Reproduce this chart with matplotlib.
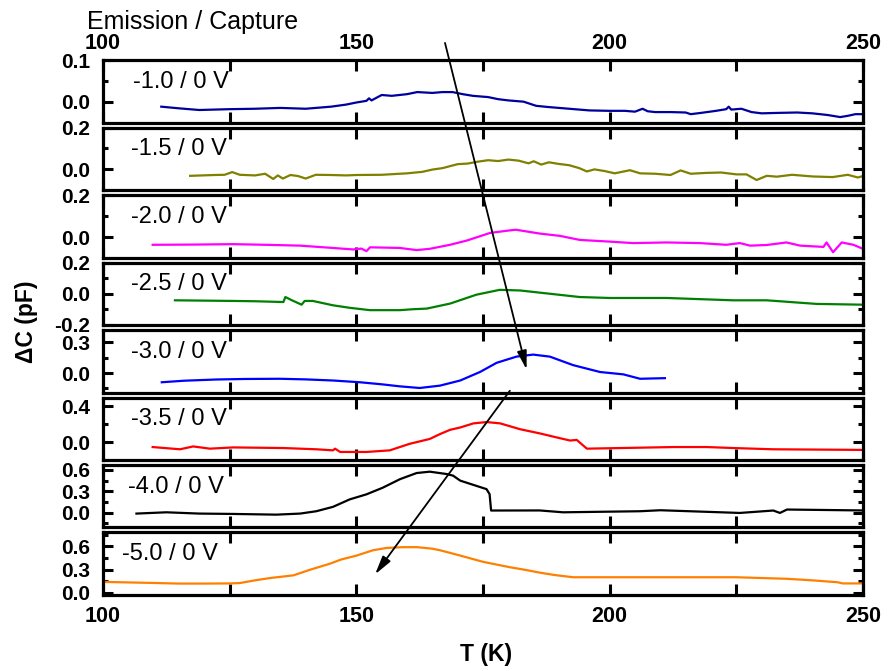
import matplotlib
matplotlib.use("Agg")
import matplotlib.pyplot as plt
from matplotlib.patches import ConnectionPatch

plt.rcParams['font.family'] = ['Liberation Sans', 'DejaVu Sans']

# bias labels and colours, top panel to bottom panel
labels = ['-1.0 / 0 V', '-1.5 / 0 V', '-2.0 / 0 V', '-2.5 / 0 V',
          '-3.0 / 0 V', '-3.5 / 0 V', '-4.0 / 0 V', '-5.0 / 0 V']
colors = ['#00009C', '#808000', '#FF00FF', '#008000',
          '#0000FF', '#FF0000', '#000000', '#FF8000']

# -1.0 / 0 V
T1 = [111.5, 115, 119, 125, 130, 135, 140, 145, 148, 150, 152, 152.5, 153, 155, 157, 160, 162, 165,
      167, 169, 171, 173, 176, 178, 180, 183, 185.5, 188, 190, 193, 196, 200, 203, 205, 206.5, 207.5,
      209, 212, 215, 216, 218, 221, 223, 223.5, 224, 226, 228, 230, 233, 237, 240, 243, 245.5, 247,
      248.5, 250]
C1 = [-0.012, -0.016, -0.02, -0.018, -0.017, -0.015, -0.017, -0.012, -0.007, -0.002, 0.002, 0.008,
      0.003, 0.016, 0.014, 0.018, 0.023, 0.021, 0.023, 0.023, 0.018, 0.014, 0.011, 0.006, 0.003, 0.0,
      -0.01, -0.013, -0.015, -0.018, -0.021, -0.022, -0.022, -0.024, -0.017, -0.023, -0.025, -0.025,
      -0.026, -0.03, -0.027, -0.022, -0.018, -0.012, -0.019, -0.017, -0.025, -0.028, -0.027, -0.026,
      -0.028, -0.032, -0.037, -0.034, -0.03, -0.03]

# -1.5 / 0 V
T2 = [117.2, 122, 124, 125.5, 127, 130, 132, 133.6, 134.5, 135.5, 137, 138.5, 140, 142, 145, 148,
      150, 155, 160, 163, 165, 167, 170, 172, 174, 176, 178, 180, 182, 184, 185, 186.5, 188, 190, 192,
      194, 195.5, 197, 199, 201, 204, 206, 209, 212, 214, 216, 219, 222, 225, 227, 229, 231, 233, 236,
      240, 244, 247, 249, 250]
C2 = [-0.032, -0.028, -0.027, -0.014, -0.027, -0.03, -0.022, -0.047, -0.03, -0.045, -0.028, -0.033,
      -0.045, -0.027, -0.028, -0.03, -0.028, -0.027, -0.02, -0.013, -0.002, 0.005, 0.024, 0.027, 0.036,
      0.043, 0.039, 0.046, 0.041, 0.028, 0.038, 0.022, 0.033, 0.025, 0.019, 0.005, -0.011, -0.001,
      -0.009, -0.02, -0.005, -0.02, -0.022, -0.028, -0.006, -0.022, -0.018, -0.016, -0.025, -0.025,
      -0.052, -0.032, -0.036, -0.027, -0.035, -0.038, -0.027, -0.04, -0.033]

# -2.0 / 0 V
T3 = [109.8, 118, 125.7, 132, 138.9, 145.4, 149.4, 151, 152, 152.7, 155, 158.6, 161.9, 164.5, 168.5,
      171.8, 176.4, 180.3, 181.5, 186.2, 190.2, 194.1, 200, 204.6, 211.2, 217.8, 223, 225.7, 227.7, 231,
      234.9, 237.6, 242.2, 242.8, 244.1, 245.8, 248.1, 250]
C3 = [-0.035, -0.034, -0.032, -0.035, -0.039, -0.05, -0.057, -0.053, -0.065, -0.047, -0.048, -0.05,
      -0.06, -0.054, -0.035, -0.015, 0.021, 0.033, 0.036, 0.018, 0.007, -0.012, -0.02, -0.027, -0.024,
      -0.027, -0.035, -0.027, -0.039, -0.036, -0.024, -0.039, -0.045, -0.024, -0.07, -0.024, -0.035,
      -0.054]

# -2.5 / 0 V
T4 = [114.2, 120, 125.7, 130, 135.6, 136, 137.3, 139.2, 139.8, 141.4, 145.4, 148.7, 152.7, 158.6,
      161.2, 163.9, 168.5, 173.7, 178.3, 182.3, 188.2, 194.1, 200, 211.2, 224.4, 231, 240.8, 250]
C4 = [-0.042, -0.044, -0.046, -0.048, -0.053, -0.021, -0.042, -0.07, -0.046, -0.046, -0.074, -0.09,
      -0.105, -0.105, -0.099, -0.095, -0.063, -0.006, 0.025, 0.021, 0.0, -0.021, -0.027, -0.027,
      -0.042, -0.042, -0.065, -0.07]

# -3.0 / 0 V
T5 = [111.6, 116, 122.4, 128, 134.9, 140, 145.4, 150.7, 155, 158.6, 162.5, 166.5, 170.5, 174.4, 177.7,
      181.6, 184.9, 188.2, 192.8, 198.1, 202.7, 206, 210.9]
C5 = [-0.09, -0.075, -0.063, -0.058, -0.056, -0.062, -0.073, -0.09, -0.11, -0.13, -0.146, -0.123,
      -0.073, 0.01, 0.1, 0.16, 0.18, 0.16, 0.077, 0.01, -0.013, -0.056, -0.05]

# -3.5 / 0 V
T6 = [109.8, 115.2, 117.8, 121.1, 125.7, 135.6, 142.1, 145.4, 145.8, 146.8, 152, 156.6, 160.5, 164.5,
      166.5, 168.5, 170.5, 173.1, 175.7, 178.4, 182.3, 186.2, 190.2, 192.2, 193.5, 195.5, 206, 212.6,
      219.2, 224.4, 232.3, 250]
C6 = [-0.055, -0.08, -0.048, -0.073, -0.059, -0.066, -0.08, -0.092, -0.073, -0.11, -0.11, -0.092,
      -0.019, 0.036, 0.09, 0.138, 0.164, 0.21, 0.225, 0.21, 0.145, 0.098, 0.044, 0.018, 0.025,
      -0.073, -0.062, -0.055, -0.055, -0.066, -0.08, -0.087]

# -4.0 / 0 V
T7 = [106.6, 112.5, 119, 125.7, 134.2, 138.9, 142.1, 145.4, 148.7, 152, 155.2, 158.6, 161.9, 164.5,
      167.8, 169.1, 170.5, 175.7, 176.3, 176.6, 186.2, 190.8, 206, 210, 225.7, 232.3, 233.6, 235, 250]
C7 = [-0.014, 0.004, -0.014, -0.019, -0.029, -0.014, 0.019, 0.081, 0.186, 0.257, 0.35, 0.47, 0.557,
      0.576, 0.543, 0.52, 0.45, 0.33, 0.26, 0.029, 0.03, 0.004, 0.019, 0.033, -0.005, 0.029, -0.005,
      0.043, 0.03]

# -5.0 / 0 V
T8 = [100, 110, 115, 120, 125, 127, 130, 133, 137.6, 141, 144.8, 147, 150, 153.3, 156, 159.2, 162,
      165, 166.5, 170, 175, 180.3, 183, 186.2, 189, 192.8, 198, 210, 225, 235, 240, 245, 246, 250]
C8 = [0.14, 0.126, 0.118, 0.118, 0.12, 0.125, 0.16, 0.19, 0.225, 0.3, 0.376, 0.43, 0.48, 0.55, 0.58,
      0.59, 0.59, 0.57, 0.55, 0.49, 0.40, 0.33, 0.3, 0.26, 0.23, 0.2, 0.2, 0.2, 0.2, 0.18, 0.16, 0.135,
      0.12, 0.12]

temps = [T1, T2, T3, T4, T5, T6, T7, T8]
caps = [C1, C2, C3, C4, C5, C6, C7, C8]

# y axis per panel: limits, labelled ticks, minor ticks
ylims = [(-0.05, 0.1), (-0.09, 0.2), (-0.095, 0.2), (-0.2, 0.2),
         (-0.19, 0.42), (-0.19, 0.5), (-0.21, 0.67), (-0.03, 0.78)]
yticks = [[0.0, 0.1], [0.0, 0.2], [0.0, 0.2], [-0.2, 0.0, 0.2],
          [0.0, 0.3], [0.0, 0.4], [0.0, 0.3, 0.6], [0.0, 0.3, 0.6]]
yminor = [[0.05], [-0.1, 0.1], [0.1], [-0.1, 0.1],
          [-0.15, 0.15], [-0.2, 0.2], [-0.15, 0.15, 0.45], [0.15, 0.45, 0.75]]

xticks = [100, 125, 150, 175, 200, 225, 250]
xticklabels = ['100', '', '150', '', '200', '', '250']

W, H = 890, 671
fig = plt.figure(figsize=(W / 100, H / 100), dpi=100)
gs = fig.add_gridspec(8, 1, left=103 / W, right=863 / W, top=1 - 60 / H,
                      bottom=1 - 595 / H, hspace=5 / 62.5)
axes = [fig.add_subplot(gs[i]) for i in range(8)]

label_x = [0.039, 0.037, 0.037, 0.037, 0.037, 0.037, 0.033, 0.025]

for i, ax in enumerate(axes):
    ax.plot(temps[i], caps[i], color=colors[i], lw=1.6)
    ax.set_xlim(100, 250)
    ax.set_ylim(*ylims[i])
    ax.set_xticks(xticks)
    ax.set_xticklabels(xticklabels)
    ax.set_yticks(yticks[i])
    ax.set_yticklabels(['%.1f' % v for v in yticks[i]])
    ax.set_yticks(yminor[i], minor=True)
    for s in ax.spines.values():
        s.set_linewidth(2.3)
    ax.tick_params(axis='x', which='major', direction='in', top=True, bottom=True,
                   length=8, width=2.2, labelbottom=False, labeltop=False)
    ax.tick_params(axis='y', which='major', direction='in', left=True, right=True,
                   length=7, width=2.2, pad=9)
    ax.tick_params(axis='y', which='minor', direction='in', left=True, right=True,
                   length=3.5, width=2.2)
    for t in ax.get_yticklabels():
        t.set_fontsize(15)
        t.set_fontweight('bold')
    ax.text(label_x[i], 0.65, labels[i], transform=ax.transAxes, fontsize=17,
            va='center', ha='left')

axes[0].tick_params(axis='x', labeltop=True, pad=4)
axes[-1].tick_params(axis='x', labelbottom=True, pad=8)
for ax in (axes[0], axes[-1]):
    for t in ax.get_xticklabels():
        t.set_fontsize(15.5)
        t.set_fontweight('bold')

fig.text(87 / W, 1 - 29 / H, 'Emission / Capture', fontsize=18, ha='left', va='baseline')
fig.text(27 / W, 1 - 322 / H, 'ΔC (pF)', fontsize=16.5, fontweight='bold',
         rotation=90, ha='center', va='center')
fig.text(486 / W, 1 - 654 / H, 'T (K)', fontsize=16.5, fontweight='bold',
         ha='center', va='center')

# trend arrows
arrow_kw = dict(arrowstyle='-|>,head_length=0.7,head_width=0.18', mutation_scale=16,
                lw=1.3, color='black')
a1 = ConnectionPatch(xyA=(167.5, 0.141), coordsA=axes[0].transData,
                     xyB=(183.6, 0.034), coordsB=axes[4].transData, **arrow_kw)
a2 = ConnectionPatch(xyA=(180.3, -0.173), coordsA=axes[4].transData,
                     xyB=(153.7, 0.238), coordsB=axes[7].transData, **arrow_kw)
fig.add_artist(a1)
fig.add_artist(a2)

fig.savefig('out.png', dpi=100)
